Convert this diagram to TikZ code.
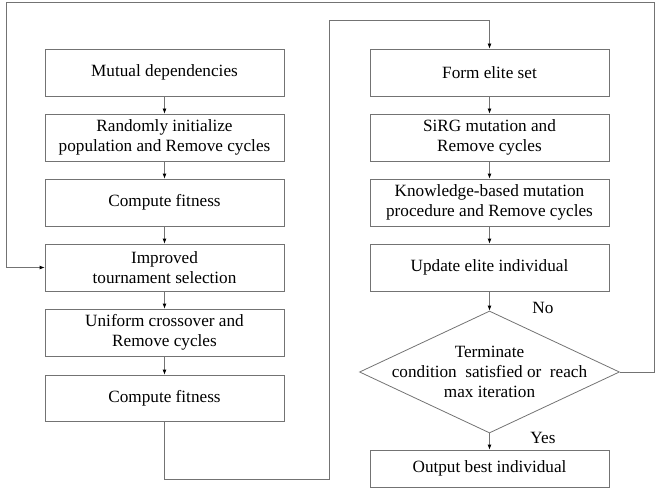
\documentclass[tikz,border=0pt]{standalone}
\usepackage{fontspec}
\setmainfont{Liberation Serif}
\usetikzlibrary{shapes.geometric,arrows.meta}
\definecolor{linegray}{RGB}{115,115,115}
\begin{document}
\begin{tikzpicture}[x=1pt,y=-1pt,
  box/.style={draw=linegray, line width=0.8pt, rectangle, minimum width=239pt, minimum height=47pt, inner sep=0pt, align=center, font=\fontsize{17.2}{20}\selectfont},
  lbl/.style={font=\fontsize{17.2}{20}\selectfont, inner sep=0pt},
  conn/.style={draw=linegray, line width=0.8pt},
  arr/.style={conn, -{Latex[length=5pt,width=4pt,color=black]}}]
\useasboundingbox (0,0) rectangle (655,500);
% left column
\node[box] (b1) at (164.5,72.5) {Mutual dependencies};
\node[box] (b2) at (164.5,137.5) {Randomly initialize\\population and Remove cycles};
\node[box] (b3) at (164.5,202.5) {Compute fitness};
\node[box] (b4) at (164.5,267.5) {Improved\\tournament selection};
\node[box] (b5) at (164.5,332.5) {Uniform crossover and\\Remove cycles};
\node[box, minimum height=46pt] (b6) at (164.5,398) {Compute fitness};
% right column
\node[box] (r1) at (489.5,72.5) {Form elite set};
\node[box] (r2) at (489.5,137.5) {SiRG mutation and\\Remove cycles};
\node[box] (r3) at (489.5,202.5) {Knowledge-based mutation\\procedure and Remove cycles};
\node[box] (r4) at (489.5,267.5) {Update elite individual};
\node[draw=linegray, line width=0.8pt, diamond, minimum width=260pt, minimum height=122pt, inner sep=0pt] (d) at (489.5,372) {};
\node[lbl, align=center] (dt) at (489.5,372) {Terminate\\condition\ \ satisfied or\ \ reach\\max iteration};
\node[box, minimum height=37pt] (out) at (489.5,468.5) {Output best individual};
\node[lbl] (no) at (543,308) {No};
\node[lbl] (yes) at (543,438) {Yes};
% coordinates
\coordinate (c1) at (329,479);
\coordinate (c2) at (329,20);
\coordinate (ce) at (654.5,372);
\coordinate (ct) at (654.5,2);
\coordinate (cl) at (6,2);
% connectors
\draw[arr] (b1.south) -- (b2.north);
\draw[arr] (b2.south) -- (b3.north);
\draw[arr] (b3.south) -- (b4.north);
\draw[arr] (b4.south) -- (b5.north);
\draw[arr] (b5.south) -- (b6.north);
\draw[arr] (b6.south) |- (c1) -- (c2) -| (r1.north);
\draw[arr] (r1.south) -- (r2.north);
\draw[arr] (r2.south) -- (r3.north);
\draw[arr] (r3.south) -- (r4.north);
\draw[arr] (r4.south) -- (d.north);
\draw[arr] (d.south) -- (out.north);
\draw[arr] (d.east) -- (ce) -- (ct) -- (cl) |- (b4.west);
\end{tikzpicture}
\end{document}
